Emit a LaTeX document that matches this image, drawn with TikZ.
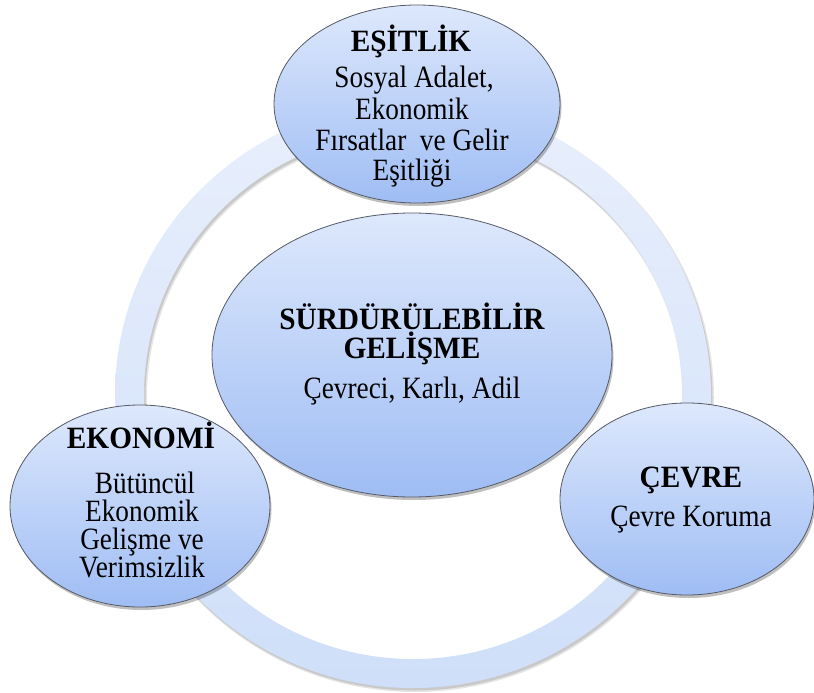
\documentclass[tikz,border=0pt]{standalone}
\usepackage{fontspec}
\setmainfont{Liberation Serif}
\usetikzlibrary{shapes.geometric,shadows}
\definecolor{bubtop}{HTML}{DDE8FC}
\definecolor{bubbot}{HTML}{9FBDF4}
\definecolor{ringtop}{HTML}{E8EFFC}
\definecolor{ringbot}{HTML}{CFDFF9}
\definecolor{edgec}{HTML}{555A66}
\newcommand{\sqt}[1]{\scalebox{0.945}[1]{#1}}
\newcommand{\sqb}[1]{\scalebox{0.88}[1]{#1}}
\begin{document}
\begin{tikzpicture}[x=1pt,y=-1pt,
  bubble/.style={ellipse, draw=edgec, line width=0.8pt, top color=bubtop, bottom color=bubbot, inner sep=0pt,
    drop shadow={shadow xshift=1.5pt, shadow yshift=-3pt, opacity=0.25, fill=black}},
  ttl/.style={font=\fontsize{31}{33}\selectfont\bfseries, anchor=base, inner sep=0pt},
  txt/.style={font=\fontsize{31}{33}\selectfont, anchor=base, inner sep=0pt}]
\useasboundingbox (0,0) rectangle (814,693);
% ring shadow
\fill[black, opacity=0.10, even odd rule]
  (415,398) ellipse [x radius=299pt, y radius=294pt]
  (415,398) ellipse [x radius=268pt, y radius=263pt];
\fill[black, opacity=0.12, even odd rule]
  (414.5,397.5) ellipse [x radius=298pt, y radius=293pt]
  (414.5,397.5) ellipse [x radius=269pt, y radius=264pt];
% ring
\shade[top color=ringtop, bottom color=ringbot, even odd rule]
  (413,395) ellipse [x radius=298pt, y radius=293pt]
  (413,395) ellipse [x radius=269pt, y radius=264pt];
% bubbles
\node[bubble, minimum width=286pt, minimum height=198pt] (eq) at (417,104) {};
\node[bubble, minimum width=260pt, minimum height=202pt] (eko) at (140,506) {};
\node[bubble, minimum width=254pt, minimum height=192pt] (cev) at (687,499) {};
\node[bubble, minimum width=400pt, minimum height=284pt] (sd) at (412,355) {};
% texts
\node[ttl] (eqT) at (411,52) {\sqt{EŞİTLİK}};
\node[txt] (eq1) at (414,88) {\sqb{Sosyal Adalet,}};
\node[txt] (eq2) at (412,119) {\sqb{Ekonomik}};
\node[txt] (eq3) at (412,150) {\sqb{Fırsatlar~ ve Gelir}};
\node[txt] (eq4) at (412,180) {\sqb{Eşitliği}};
\node[ttl] (sdT1) at (412,329) {\sqt{SÜRDÜRÜLEBİLİR}};
\node[ttl] (sdT2) at (412,358) {\sqt{GELİŞME}};
\node[txt] (sd1) at (412,398) {\sqb{Çevreci, Karlı, Adil}};
\node[ttl] (ekT) at (141,448) {\sqt{EKONOMİ}};
\node[txt] (ek1) at (145,493) {\sqb{Bütüncül}};
\node[txt] (ek2) at (142,521) {\sqb{Ekonomik}};
\node[txt] (ek3) at (142,549) {\sqb{Gelişme ve}};
\node[txt] (ek4) at (142,577) {\sqb{Verimsizlik}};
\node[ttl] (cvT) at (691,487) {\sqt{ÇEVRE}};
\node[txt] (cv1) at (691,526) {\sqb{Çevre Koruma}};
\end{tikzpicture}
\end{document}
